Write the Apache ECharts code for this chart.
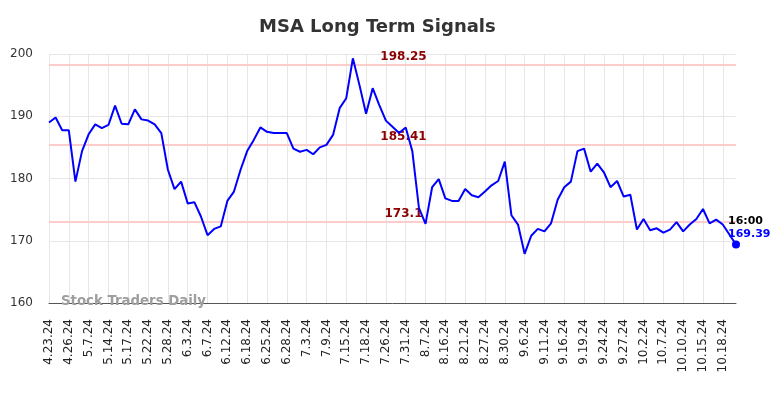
<!DOCTYPE html>
<html>
<head>
<meta charset="utf-8">
<title>MSA Long Term Signals</title>
<script src="https://cdn.jsdelivr.net/npm/echarts@6/dist/echarts.min.js"></script>
<style>
  html, body { margin: 0; padding: 0; background: #fff; }
  #chart { width: 784px; height: 398px; }
</style>
</head>
<body>
<div id="chart"></div>
<script>
// trading dates (every 3rd one is shown on the axis)
const dates = [
  '4.23.24', '4.24.24', '4.25.24', '4.26.24', '4.30.24', '5.3.24', '5.7.24', '5.9.24', '5.13.24',
  '5.14.24', '5.15.24', '5.16.24', '5.17.24', '5.20.24', '5.21.24', '5.22.24', '5.23.24', '5.24.24',
  '5.28.24', '5.29.24', '5.31.24', '6.3.24', '6.4.24', '6.6.24', '6.7.24', '6.10.24', '6.11.24',
  '6.12.24', '6.13.24', '6.14.24', '6.18.24', '6.20.24', '6.21.24', '6.25.24', '6.26.24', '6.27.24',
  '6.28.24', '7.1.24', '7.2.24', '7.3.24', '7.5.24', '7.8.24', '7.9.24', '7.11.24', '7.12.24',
  '7.15.24', '7.16.24', '7.17.24', '7.18.24', '7.22.24', '7.24.24', '7.26.24', '7.29.24', '7.30.24',
  '7.31.24', '8.2.24', '8.6.24', '8.7.24', '8.9.24', '8.13.24', '8.16.24', '8.19.24', '8.20.24',
  '8.21.24', '8.22.24', '8.26.24', '8.27.24', '8.28.24', '8.29.24', '8.30.24', '9.3.24', '9.4.24',
  '9.6.24', '9.9.24', '9.10.24', '9.11.24', '9.12.24', '9.13.24', '9.16.24', '9.17.24', '9.18.24',
  '9.19.24', '9.20.24', '9.23.24', '9.24.24', '9.25.24', '9.26.24', '9.27.24', '9.30.24', '10.1.24',
  '10.2.24', '10.3.24', '10.4.24', '10.7.24', '10.8.24', '10.9.24', '10.10.24', '10.11.24', '10.14.24',
  '10.15.24', '10.16.24', '10.17.24', '10.18.24', '10.21.24', '10.22.24'
]

// closing prices
const prices = [
  189.0, 189.8, 187.75, 187.75, 179.5, 184.4, 187.1, 188.7, 188.1,
  188.6, 191.7, 188.8, 188.7, 191.1, 189.5, 189.3, 188.7, 187.3,
  181.4, 178.3, 179.5, 176.0, 176.2, 173.9, 170.9, 171.9, 172.3,
  176.4, 177.9, 181.4, 184.4, 186.2, 188.2, 187.5, 187.3, 187.3,
  187.3, 184.8, 184.3, 184.6, 183.9, 185.0, 185.4, 187.0, 191.3,
  192.9, 199.3, 195.0, 190.4, 194.5, 191.8, 189.3, 188.3, 187.3,
  188.2, 184.4, 175.3, 172.7, 178.6, 179.9, 176.8, 176.4, 176.4,
  178.3, 177.3, 177.0, 177.9, 178.9, 179.6, 182.7, 174.1, 172.6,
  167.9, 170.8, 171.9, 171.5, 172.8, 176.6, 178.6, 179.5, 184.4,
  184.8, 181.1, 182.4, 181.0, 178.6, 179.6, 177.1, 177.4, 171.8,
  173.5, 171.7, 172.0, 171.3, 171.8, 173.0, 171.5, 172.6, 173.5,
  175.1, 172.8, 173.4, 172.6, 171.0, 169.39
]

// signal levels
const signalLevels = [198.25, 185.41, 173.1]
const signalLabels = ['198.25', '185.41', '173.1']

// last quote
const lastTime = '16:00'
const lastPrice = 169.39

// y axis ticks
const yMin = 160
const yMax = 200
const yStep = 10

const chart = echarts.init(document.getElementById('chart'))

const option = {
  backgroundColor: '#fff',
  animation: false,
  title: {
    text: 'MSA Long Term Signals',
    left: 254,
    top: 13,
    textStyle: {
      fontFamily: 'DejaVu Sans',
      fontSize: 18,
      fontWeight: 'bold',
      color: '#333'
    }
  },
  grid: {
    left: 49,
    right: 48,
    top: 54,
    bottom: 95
  },
  xAxis: {
    type: 'category',
    data: dates,
    boundaryGap: false,
    axisLine: { lineStyle: { color: '#555', width: 1 } },
    axisTick: { show: false, interval: 2 },
    axisLabel: {
      interval: 2,
      rotate: 90,
      margin: 16,
      fontFamily: 'DejaVu Sans',
      fontSize: 12,
      color: '#222'
    },
    splitLine: {
      show: true,
      interval: 2,
      lineStyle: { color: '#e6e6e6', width: 1 }
    }
  },
  yAxis: {
    type: 'value',
    min: yMin,
    max: yMax,
    interval: yStep,
    axisLine: { show: false },
    axisTick: { show: false },
    axisLabel: {
      margin: 16,
      fontFamily: 'DejaVu Sans',
      fontSize: 12,
      color: '#333'
    },
    splitLine: { lineStyle: { color: '#e6e6e6', width: 1 } }
  },
  graphic: [
    {
      // watermark over the axis
      type: 'text',
      left: 61,
      top: 295,
      z: 100,
      style: {
        text: 'Stock Traders Daily',
        font: 'bold 13.3px "DejaVu Sans"',
        fill: '#9e9e9e'
      }
    }
  ],
  series: [
    {
      type: 'line',
      data: prices,
      showSymbol: false,
      lineStyle: { color: '#0000ff', width: 2 },
      itemStyle: { color: '#0000ff' },
      z: 3,
      markLine: {
        silent: true,
        symbol: 'none',
        z: 1,
        lineStyle: { color: '#ffcccc', width: 2, type: 'solid' },
        label: {
          show: true,
          position: 'middle',
          distance: 2,
          offset: [11, 0],
          fontFamily: 'DejaVu Sans',
          fontSize: 12,
          fontWeight: 'bold',
          color: '#8b0000'
        },
        data: signalLevels.map((v, i) => ({
          yAxis: v,
          label: { formatter: signalLabels[i] }
        }))
      },
      markPoint: {
        silent: true,
        symbol: 'circle',
        symbolSize: 8,
        itemStyle: { color: '#0000ff' },
        label: {
          show: true,
          position: [-4, -26],
          align: 'left',
          verticalAlign: 'top',
          formatter: '{t|' + lastTime + '}\n{v|' + lastPrice + '}',
          rich: {
            t: { fontFamily: 'DejaVu Sans', fontSize: 11, fontWeight: 'bold', color: '#000', lineHeight: 13 },
            v: { fontFamily: 'DejaVu Sans', fontSize: 11, fontWeight: 'bold', color: '#0000ff', lineHeight: 13 }
          }
        },
        data: [{ coord: [dates.length - 1, lastPrice] }]
      }
    }
  ]
}

chart.setOption(option)
</script>
</body>
</html>
